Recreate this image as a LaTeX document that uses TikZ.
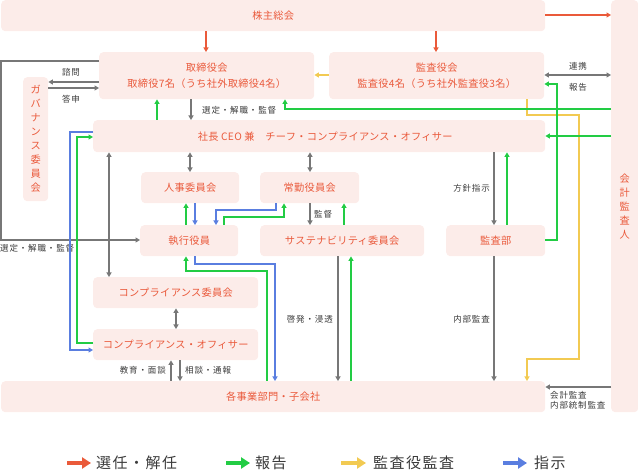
\documentclass[tikz,border=0pt]{standalone}
\usepackage{fontspec}
\setmainfont{Noto Sans CJK JP}
\newfontfamily\jp[LetterSpace=10]{Noto Sans CJK JP}
\newfontfamily\jpbox[LetterSpace=3]{Noto Sans CJK JP}
\usetikzlibrary{arrows.meta}
\definecolor{boxfill}{HTML}{FCECE9}
\definecolor{boxtext}{HTML}{EA5A3C}
\definecolor{cred}{HTML}{EA5A3A}
\definecolor{cgreen}{HTML}{22CC44}
\definecolor{cyellow}{HTML}{F2CA52}
\definecolor{cblue}{HTML}{5A7EE0}
\definecolor{cgray}{HTML}{777777}
\definecolor{labeltext}{HTML}{3A3A3A}
\begin{document}
\begin{tikzpicture}[x=1pt,y=-1pt,
  box/.style={fill=boxfill, rounded corners=4pt, text=boxtext, font=\jpbox\fontsize{10.2}{16}\selectfont, inner sep=0pt, anchor=north west, align=center},
  vbox/.style={box, font=\jpbox\fontsize{10.2}{14}\selectfont},
  lab/.style={text=labeltext, font=\jp\fontsize{8.5}{10.5}\selectfont, inner sep=0pt},
  ln/.style={line width=1.2pt, line join=miter},
  tip/.style={-{Triangle[length=4.5pt,width=5pt]}},
  dtip/.style={{Triangle[length=4.5pt,width=5pt]}-{Triangle[length=4.5pt,width=5pt]}},
  rd/.style={ln, cred, tip},
  gn/.style={ln, cgreen, tip},
  yl/.style={ln, cyellow, tip},
  bl/.style={ln, cblue, tip},
  gy/.style={ln, cgray, tip},
  gyd/.style={ln, cgray, dtip},
  legarrow/.style={line width=4.5pt, -{Triangle[length=9pt,width=11pt]}},
  legtext/.style={text=labeltext, font=\jp\fontsize{15}{18}\selectfont, inner sep=0pt, anchor=west}
]
\useasboundingbox (0,0) rectangle (638,470);

% boxes
\node[box, minimum width=544pt, minimum height=31pt] (kabu) at (1,0) {株主総会};
\node[vbox, minimum width=27pt, minimum height=412pt] (kaikei) at (611,0) {会\\計\\監\\査\\人};
\node[box, minimum width=215pt, minimum height=47pt] (tori) at (99,52) {取締役会\\取締役7名（うち社外取締役4名）};
\node[box, minimum width=215pt, minimum height=47pt] (kansayaku) at (329,52) {監査役会\\監査役4名（うち社外監査役3名）};
\node[vbox, minimum width=25pt, minimum height=124pt] (gov) at (23,77) {ガ\\バ\\ナ\\ン\\ス\\委\\員\\会};
\node[box, minimum width=452pt, minimum height=32pt] (ceo) at (93,120) {\hspace*{12pt}社長 CEO 兼　チーフ・コンプライアンス・オフィサー};
\node[box, minimum width=98pt, minimum height=31pt] (jinji) at (141,172) {人事委員会};
\node[box, minimum width=99pt, minimum height=31pt] (joukin) at (260,172) {常勤役員会};
\node[box, minimum width=98pt, minimum height=31pt] (shikko) at (140,225) {執行役員};
\node[box, minimum width=164pt, minimum height=31pt] (sus) at (260,225) {サステナビリティ委員会};
\node[box, minimum width=99pt, minimum height=31pt] (kansabu) at (446,225) {監査部};
\node[box, minimum width=165pt, minimum height=31pt] (compc) at (93,277) {コンプライアンス委員会};
\node[box, minimum width=165pt, minimum height=31pt] (compo) at (93,329) {コンプライアンス・オフィサー};
\node[box, minimum width=544pt, minimum height=31pt] (jigyo) at (1,381) {各事業部門・子会社};

% labels
\node[lab] (l_renkei) at (578,66) {連携};
\node[lab] (l_houkoku) at (578,87) {報告};
\node[lab] (l_shimon) at (71,72) {諮問};
\node[lab] (l_toushin) at (71,99) {答申};
\node[lab, anchor=west] (l_sentei1) at (202,110) {選定・解職・監督};
\node[lab, anchor=west] (l_sentei2) at (0,248) {選定・解職・監督};
\node[lab, anchor=east] (l_houshin) at (490,188) {方針指示};
\node[lab, anchor=west] (l_kantoku) at (314,214) {監督};
\node[lab, anchor=east] (l_kyouiku) at (166,370) {教育・面談};
\node[lab, anchor=west] (l_soudan) at (185,370) {相談・通報};
\node[lab, anchor=east] (l_keihatsu) at (333,319) {啓発・浸透};
\node[lab, anchor=east] (l_naibu) at (490,319) {内部監査};
\node[lab, anchor=north west, align=left] (l_kaikei) at (550,391) {会計監査\\内部統制監査};

% red
\draw[rd] (kabu.south -| 206,0) -- (tori.north -| 206,0);
\draw[rd] (kabu.south -| 436,0) -- (kansayaku.north -| 436,0);
\draw[rd] (kabu.east |- 0,15) -- (kaikei.west |- 0,15);
% yellow
\draw[yl] (kansayaku.west |- 0,75) -- (tori.east |- 0,75);
\draw[yl] (kansayaku.south -| 527,0) -- (527,115) -- (579,115) -- (579,359) -- (527,359) -- (jigyo.north -| 527,0);
% gray / green around top
\draw[gyd] (kansayaku.east |- 0,75) -- (kaikei.west |- 0,75);
\draw[gn] (kansabu.east |- 0,240) -- (557,240) -- (557,84) -- (kansayaku.east |- 0,84);
\draw[gn] (kaikei.west |- 0,109) -- (285,109) -- (tori.south -| 285,0);
\draw[gy] (tori.south -| 191,0) -- (ceo.north -| 191,0);
\draw[gn] (ceo.north -| 157,0) -- (tori.south -| 157,0);
\draw[gn, line width=2pt] (kaikei.west |- 0,136) -- (ceo.east |- 0,136);
% CEO level
\draw[gyd] (ceo.south -| 190,0) -- (jinji.north -| 190,0);
\draw[gyd] (ceo.south -| 310,0) -- (joukin.north -| 310,0);
\draw[gy] (ceo.south -| 494,0) -- (kansabu.north -| 494,0);
\draw[gn] (kansabu.north -| 507,0) -- (ceo.south -| 507,0);
% committees
\draw[gn] (shikko.north -| 186,0) -- (jinji.south -| 186,0);
\draw[bl] (jinji.south -| 195,0) -- (shikko.north -| 195,0);
\draw[bl] (joukin.south -| 276,0) -- (276,210) -- (216,210) -- (shikko.north -| 216,0);
\draw[gn] (shikko.north -| 224,0) -- (224,217) -- (284,217) -- (joukin.south -| 284,0);
\draw[gy] (joukin.south -| 310,0) -- (sus.north -| 310,0);
\draw[gn] (sus.north -| 344,0) -- (joukin.south -| 344,0);
% left side
\draw[gy] (tori.west |- 0,61) -- (1,61) -- (1,240) -- (shikko.west |- 0,240);
\draw[gy] (tori.west |- 0,82) -- (gov.east |- 0,82);
\draw[gy] (gov.east |- 0,88) -- (tori.west |- 0,88);
\draw[bl] (ceo.west |- 0,132) -- (70,132) -- (70,350) -- (compo.west |- 0,350);
\draw[gn] (compo.west |- 0,343) -- (77,343) -- (77,137) -- (ceo.west |- 0,137);
\draw[gyd] (ceo.south -| 109,0) -- (compc.north -| 109,0);
\draw[gyd] (compc.south -| 176,0) -- (compo.north -| 176,0);
\draw[gy] (jigyo.north -| 171,0) -- (compo.south -| 171,0);
\draw[gy] (compo.south -| 180,0) -- (jigyo.north -| 180,0);
% to business units
\draw[bl] (shikko.south -| 195,0) -- (195,264) -- (275,264) -- (jigyo.north -| 275,0);
\draw[gn] (jigyo.north -| 267,0) -- (267,271) -- (186,271) -- (shikko.south -| 186,0);
\draw[gy] (sus.south -| 338,0) -- (jigyo.north -| 338,0);
\draw[gn] (jigyo.north -| 351,0) -- (sus.south -| 351,0);
\draw[gy] (kansabu.south -| 494,0) -- (jigyo.north -| 494,0);
\draw[gy] (kaikei.west |- 0,387) -- (jigyo.east |- 0,387);

% legend
\coordinate (lg1a) at (67,463); \coordinate (lg1b) at (91,463);
\coordinate (lg2a) at (226,463); \coordinate (lg2b) at (250,463);
\coordinate (lg3a) at (341,463); \coordinate (lg3b) at (366,463);
\coordinate (lg4a) at (503,463); \coordinate (lg4b) at (527,463);
\draw[legarrow, cred] (lg1a) -- (lg1b);
\draw[legarrow, cgreen] (lg2a) -- (lg2b);
\draw[legarrow, cyellow] (lg3a) -- (lg3b);
\draw[legarrow, cblue] (lg4a) -- (lg4b);
\node[legtext] (lt1) at (96,463) {選任・解任};
\node[legtext] (lt2) at (255,463) {報告};
\node[legtext] (lt3) at (373,463) {監査役監査};
\node[legtext] (lt4) at (534,463) {指示};
\end{tikzpicture}
\end{document}
